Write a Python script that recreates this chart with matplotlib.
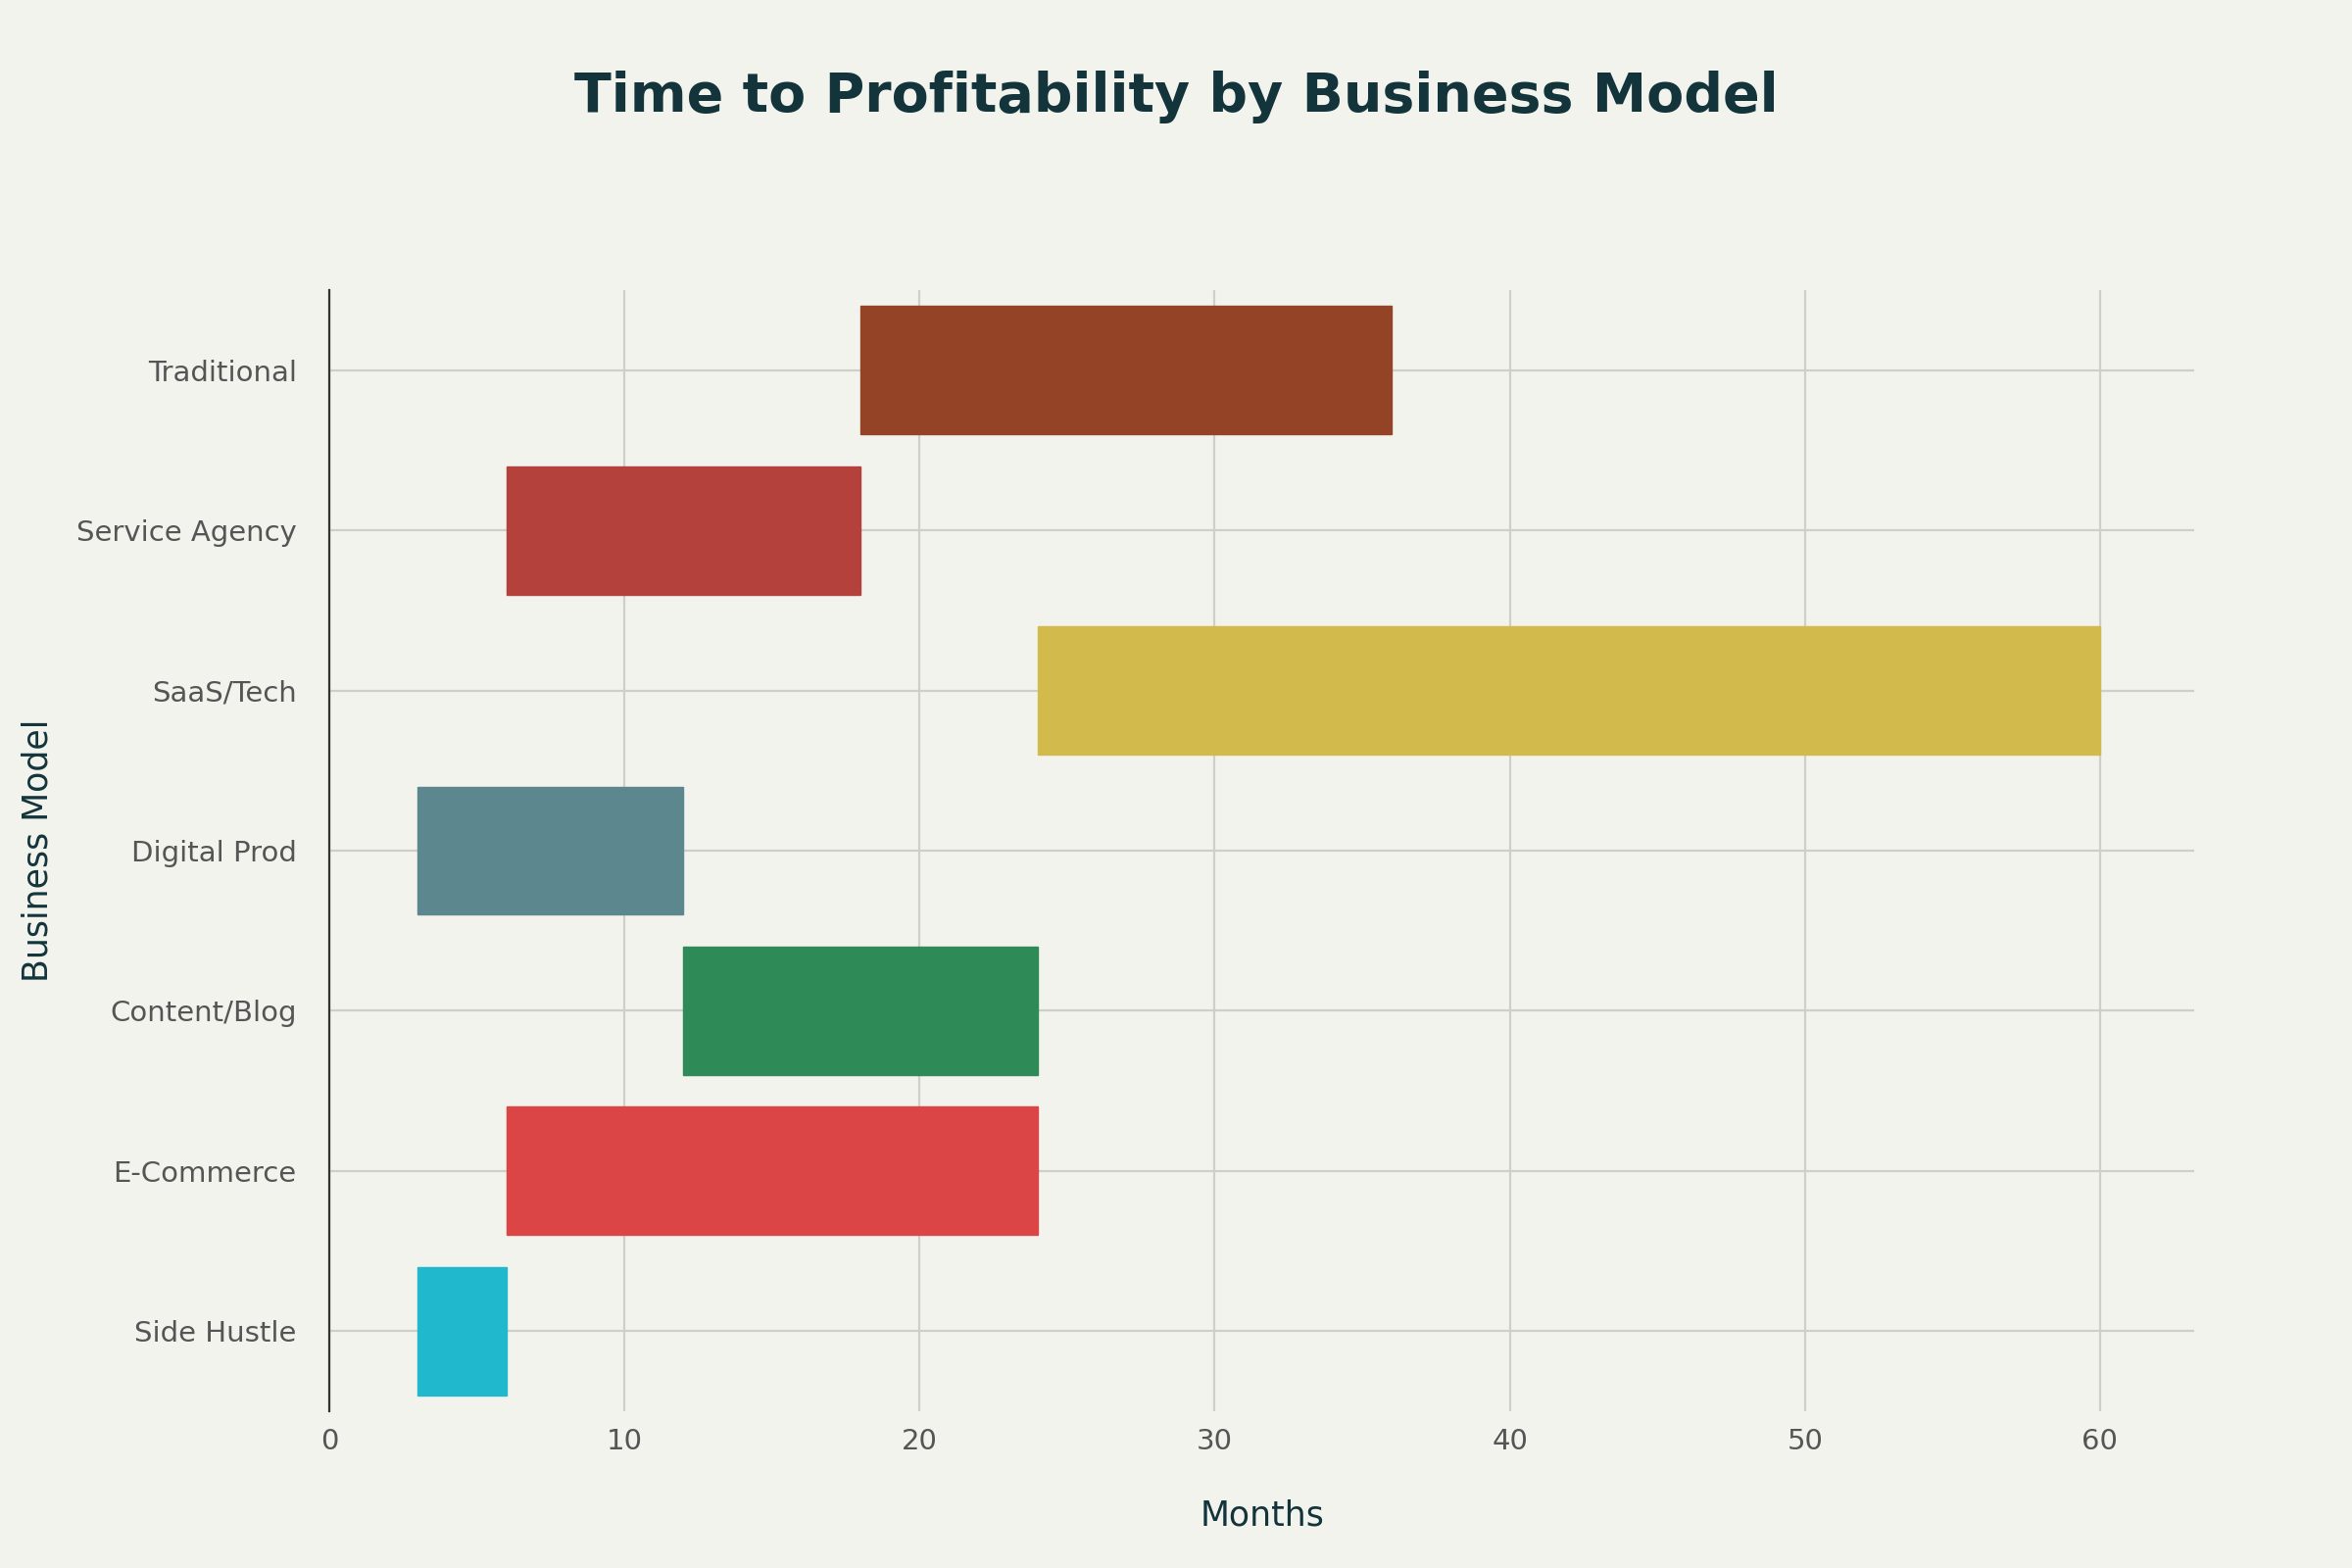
import matplotlib.pyplot as plt

# data
models = ["Side Hustle", "E-Commerce", "Content/Blog", "Digital Prod",
          "SaaS/Tech", "Service Agency", "Traditional"]
start_months = [3, 6, 12, 3, 24, 6, 18]
end_months = [6, 24, 24, 12, 60, 18, 36]
colors = ["#1FB8CD", "#DB4545", "#2E8B57", "#5D878F",
          "#D2BA4C", "#B4413C", "#944326"]

bg = "#F3F3EE"
fig = plt.figure(figsize=(12, 8), dpi=200, facecolor=bg)
ax = fig.add_axes([0.14, 0.10, 0.793, 0.715], facecolor=bg)

widths = [e - s for s, e in zip(start_months, end_months)]
ax.barh(models, widths, left=start_months, height=0.8, color=colors,
        edgecolor=colors, linewidth=0.5, zorder=3)

ax.set_xlim(0, 63.2)
ax.set_ylim(-0.5, len(models) - 0.5)
ax.set_xticks([0, 10, 20, 30, 40, 50, 60])
ax.grid(True, color="#CFCFCA", linewidth=0.8, zorder=0)
for s in ["top", "right", "bottom"]:
    ax.spines[s].set_visible(False)
ax.spines["left"].set_color("#333333")
ax.spines["left"].set_linewidth(0.8)
ax.tick_params(axis="both", length=0, labelsize=10.5, colors="#555555")
ax.tick_params(axis="y", pad=12)
ax.tick_params(axis="x", pad=6)

ax.set_xlabel("Months", fontsize=12.5, color="#13343B", labelpad=16)
ax.set_ylabel("Business Model", fontsize=12.5, color="#13343B", labelpad=8)
fig.suptitle("Time to Profitability by Business Model", fontsize=20,
             fontweight="bold", color="#13343B", y=0.955)

fig.savefig("out.png", facecolor=bg)
